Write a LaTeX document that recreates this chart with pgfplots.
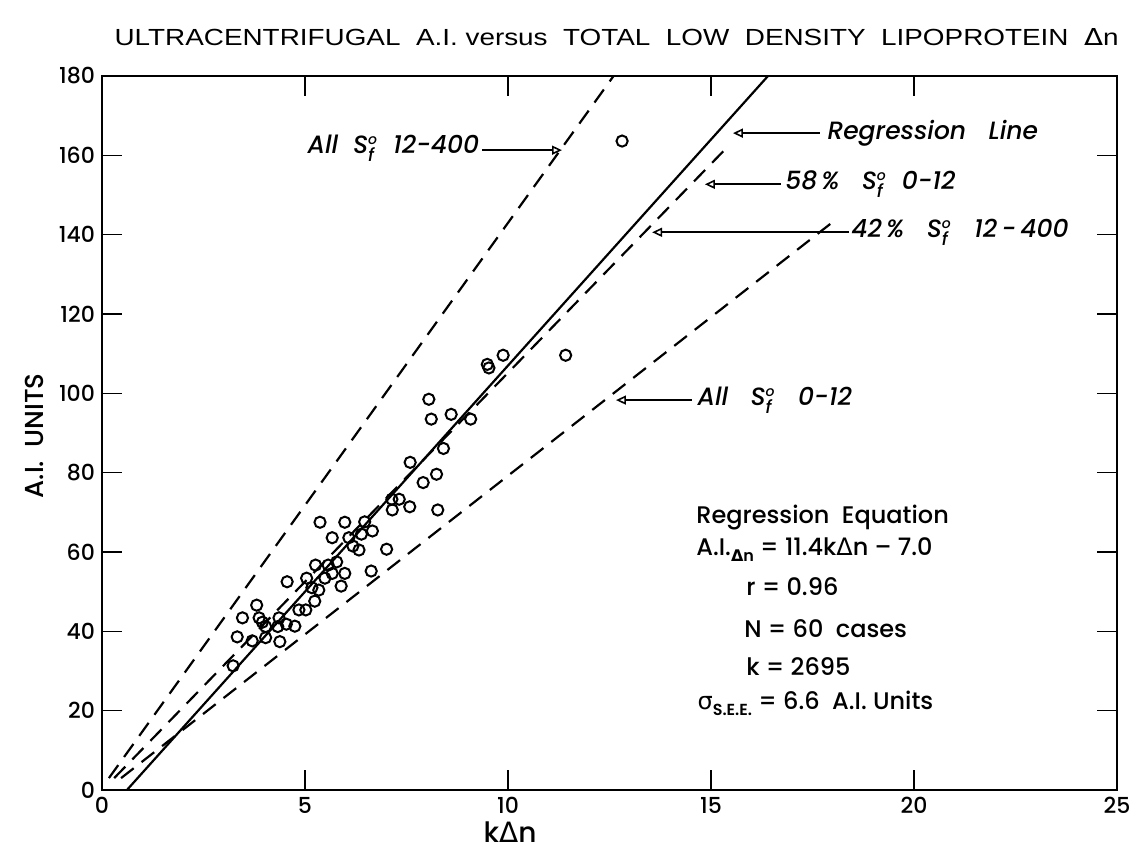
\documentclass[border=0pt]{standalone}
\usepackage{fontspec}
\setmainfont{Poppins}[UprightFont={* Medium}, ItalicFont={* Medium Italic}, BoldFont={* SemiBold}]
\newfontfamily\symfont{DejaVu Sans}
\newfontfamily\titlefont{Liberation Sans}
\usepackage{pgfplots}
\usepackage{pgfplotstable}
\pgfplotsset{compat=1.18}
\usetikzlibrary{arrows.meta}

% Greek letters come from DejaVu Sans
\newcommand{\D}{{\symfont Δ}}
% S_f with the degree-like "o" above the subscript
\newcommand{\Sf}{S\ensuremath{^{\mbox{\scriptsize o}}_{\mbox{\small f}}}}

% individual cases: k*Delta n, A.I. units
\pgfplotstableread{
x y
8.05 98.5
8.11 93.5
8.60 94.7
9.08 93.5
8.41 86.1
7.59 82.6
8.24 79.6
7.91 77.5
7.14 73.3
7.32 73.3
7.15 70.6
7.58 71.4
8.27 70.6
5.37 67.5
5.98 67.5
6.47 67.6
6.66 65.3
6.39 64.5
6.08 63.6
5.67 63.6
6.18 61.5
6.33 60.5
7.01 60.7
5.26 56.7
5.57 56.7
5.78 57.5
5.98 54.6
5.67 54.6
5.49 53.4
5.04 53.4
4.56 52.5
6.63 55.2
5.89 51.4
5.17 51.0
5.34 50.4
5.24 47.6
5.02 45.4
4.85 45.4
3.81 46.6
3.46 43.4
3.87 43.4
3.95 42.3
4.03 41.2
4.36 43.4
4.33 41.2
4.54 41.8
4.75 41.3
3.33 38.6
3.70 37.6
4.03 38.4
4.38 37.4
3.23 31.3
9.49 107.3
9.53 106.4
9.88 109.6
11.42 109.6
12.81 163.6
}\cases

\tikzset{
  lbl/.style={font=\fontsize{12.5}{14}\selectfont\itshape, inner sep=0pt},
  eq/.style={font=\fontsize{12}{14}\selectfont, inner sep=0pt, anchor=west},
  pointer/.style={-{Triangle[open,length=5pt,width=4.5pt]}, line width=0.8pt},
  guide/.style={line width=1.1pt, dash pattern=on 8pt off 5pt},
}

\begin{document}
\begin{tikzpicture}
\path[use as bounding box] (-51pt,-30.5pt) rectangle (519.5pt,395pt);
\begin{axis}[
  at={(0,0)}, anchor=south west,
  scale only axis,
  width=507.5pt, height=357pt,
  xmin=0, xmax=25, ymin=0, ymax=180,
  xtick={0,5,...,25}, ytick={0,20,...,180},
  tick align=inside, major tick length=10pt,
  axis line style={line width=1pt},
  every tick/.style={line width=0.8pt, black},
  tick label style={font=\fontsize{11}{13}\selectfont},
  /pgf/number format/assume math mode=true,
  clip=false,
]
% all S_f 12-400, 58% S_f 0-12, all S_f 0-12
\addplot[guide] coordinates {(0.17,3) (12.60,180)};
\addplot[guide] coordinates {(0.30,3) (15.30,161)};
\addplot[guide] coordinates {(0.47,3) (18.10,144)};
% regression line A.I. = 11.4 k Delta n - 7.0
\addplot[line width=1.1pt] coordinates {(0.614,0) (16.404,180)};
% observations
\addplot[only marks, mark=o, mark size=2.8pt, line width=1pt] table {\cases};

% pointers to the lines
\draw[pointer] (axis cs:9.36,161.3) -- (axis cs:11.33,161.3);
\node[lbl, anchor=east] at (axis cs:9.30,161.8) {All\ \ \Sf\ \ 12-400};

\draw[pointer] (axis cs:17.68,165.6) -- (axis cs:15.54,165.6);
\node[lbl, anchor=west] at (axis cs:17.86,165.6) {Regression\ \ \ Line};

\draw[pointer] (axis cs:16.72,152.7) -- (axis cs:14.85,152.7);
\node[lbl, anchor=west] at (axis cs:16.82,152.7) {58\,\%\ \ \ \Sf\ \ 0-12};

\draw[pointer] (axis cs:18.40,140.6) -- (axis cs:13.55,140.6);
\node[lbl, anchor=west] at (axis cs:18.45,140.6) {42\,\%\ \ \ \Sf\ \ \ 12\,-\,400};

\draw[pointer] (axis cs:14.53,98.3) -- (axis cs:12.66,98.3);
\node[lbl, anchor=west] at (axis cs:14.66,98.3) {All\ \ \ \Sf\ \ \ 0-12};

% regression summary
\node[eq] at (axis cs:14.63,68.8) {Regression\ \ Equation};
\node[eq] at (axis cs:14.63,60.5) {A.I.\raisebox{-3pt}{\footnotesize\bfseries\D n} = 11.4k\D n -- 7.0};
\node[eq] at (axis cs:15.86,51.2) {r = 0.96};
\node[eq] at (axis cs:15.81,40.8) {N = 60\ \ cases};
\node[eq] at (axis cs:15.86,31.0) {k = 2695};
\node[eq] at (axis cs:14.66,21.9) {{\symfont σ}\raisebox{-3pt}{\footnotesize\bfseries S.E.E.} = 6.6\ \ A.I.\ Units};

% title and axis labels
\node at (axis description cs:0.507,1.0546) {\resizebox{502pt}{8.5pt}{\titlefont ULTRACENTRIFUGAL\ \ A.I.\ versus\ \ TOTAL\ \ LOW\ \ DENSITY\ \ LIPOPROTEIN\ \ \D n}};
\node[rotate=90, font=\fontsize{13}{15}\selectfont] at (axis description cs:-0.067,0.496) {A.I.\ \ UNITS};
\node[font=\fontsize{14}{16}\selectfont] at (axis description cs:0.402,-0.059) {k\D n};
\end{axis}
\end{tikzpicture}
\end{document}
